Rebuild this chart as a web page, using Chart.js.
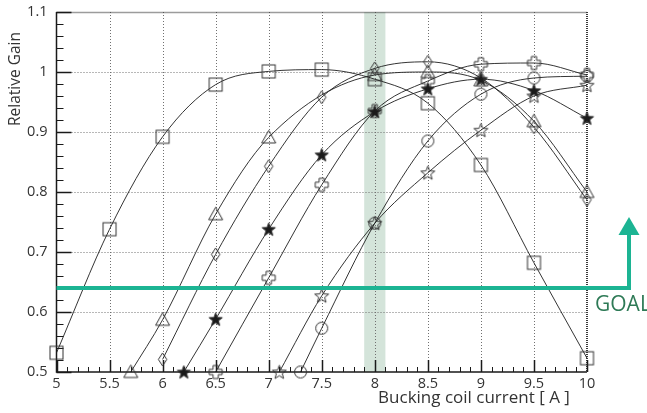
<!DOCTYPE html>
<html>
<head>
<meta charset="utf-8">
<script src="https://cdn.jsdelivr.net/npm/chart.js@4.4.1/dist/chart.umd.min.js"></script>
<style>
  html, body { margin: 0; padding: 0; background: #fff; }
  #c { display: block; }
</style>
</head>
<body>
<canvas id="c" width="647" height="413"></canvas>
<script>
// Relative gain versus bucking coil current, one series per configuration
const squareX   = [5, 5.5, 6, 6.5, 7, 7.5, 8, 8.5, 9, 9.5, 10];
const squareY   = [0.532, 0.738, 0.892, 0.979, 1.001, 1.004, 0.988, 0.948, 0.845, 0.682, 0.523];

const triangleX = [5.7, 6, 6.5, 7, 8, 8.5, 9, 9.5, 10];
const triangleY = [0.5, 0.587, 0.763, 0.891, 0.995, 1.0, 0.986, 0.918, 0.8];

const diamondX  = [6, 6.5, 7, 7.5, 8, 8.5, 9, 9.5, 10];
const diamondY  = [0.521, 0.696, 0.843, 0.958, 1.006, 1.017, 0.99, 0.908, 0.787];

const starX     = [6.2, 6.5, 7, 7.5, 8, 8.5, 9, 9.5, 10];
const starY     = [0.5, 0.588, 0.738, 0.862, 0.934, 0.972, 0.988, 0.969, 0.923];

const crossX    = [6.5, 7, 7.5, 8, 8.5, 9, 9.5, 10];
const crossY    = [0.5, 0.657, 0.812, 0.935, 0.985, 1.013, 1.015, 0.995];

const circleX   = [7.3, 7.5, 8, 8.5, 9, 9.5, 10];
const circleY   = [0.5, 0.573, 0.748, 0.885, 0.963, 0.99, 0.993];

const openStarX = [7.1, 7.5, 8, 8.5, 9, 9.5, 10];
const openStarY = [0.5, 0.627, 0.748, 0.832, 0.903, 0.96, 0.978];

// Axis ranges and tick labels
const xTickLabels = ['5', '5.5', '6', '6.5', '7', '7.5', '8', '8.5', '9', '9.5', '10'];
const yTickLabels = ['0.5', '0.6', '0.7', '0.8', '0.9', '1', '1.1'];

// Operating window and target gain
const bandFrom = 7.9;
const bandTo = 8.1;
const goalGain = 0.64;

const INK = '#333';

// ---- marker glyphs drawn onto small canvases ----
function glyph(draw) {
  const c = document.createElement('canvas');
  c.width = 17; c.height = 17;
  const g = c.getContext('2d');
  g.strokeStyle = INK;
  g.fillStyle = '#1a1a1a';
  g.lineWidth = 1;
  g.lineJoin = 'miter';
  draw(g, 8.5);
  return c;
}
function starPath(g, m, ro, ri) {
  g.beginPath();
  for (let i = 0; i < 10; i++) {
    const r = i % 2 === 0 ? ro : ri;
    const a = -Math.PI / 2 + i * Math.PI / 5;
    const px = m + r * Math.cos(a), py = m + r * Math.sin(a) + 0.6;
    if (i === 0) g.moveTo(px, py); else g.lineTo(px, py);
  }
  g.closePath();
}
const markSquare = glyph((g, m) => { g.strokeRect(m - 6.5, m - 6.5, 13, 13); });
const markTriangle = glyph((g, m) => {
  g.beginPath(); g.moveTo(m, m - 7); g.lineTo(m + 7, m + 5.5); g.lineTo(m - 7, m + 5.5); g.closePath(); g.stroke();
});
const markDiamond = glyph((g, m) => {
  g.beginPath(); g.moveTo(m, m - 6.5); g.lineTo(m + 4.2, m); g.lineTo(m, m + 6.5); g.lineTo(m - 4.2, m); g.closePath(); g.stroke();
});
const markCircle = glyph((g, m) => { g.beginPath(); g.arc(m, m, 6, 0, Math.PI * 2); g.stroke(); });
const markCross = glyph((g, m) => {
  const a = 2.6, b = 6.5;
  g.beginPath();
  g.moveTo(m - a, m - b); g.lineTo(m + a, m - b); g.lineTo(m + a, m - a); g.lineTo(m + b, m - a);
  g.lineTo(m + b, m + a); g.lineTo(m + a, m + a); g.lineTo(m + a, m + b); g.lineTo(m - a, m + b);
  g.lineTo(m - a, m + a); g.lineTo(m - b, m + a); g.lineTo(m - b, m - a); g.lineTo(m - a, m - a);
  g.closePath(); g.stroke();
});
const markStar = glyph((g, m) => { starPath(g, m, 7, 2.9); g.fill(); g.stroke(); });
const markOpenStar = glyph((g, m) => { starPath(g, m, 7.3, 3.1); g.stroke(); });

function pts(xs, ys) { return xs.map((v, i) => ({ x: v, y: ys[i] })); }
function series(label, xs, ys, marker) {
  return {
    label,
    data: pts(xs, ys),
    borderColor: '#1e1e1e',
    borderWidth: 0.9,
    backgroundColor: 'transparent',
    fill: false,
    cubicInterpolationMode: 'monotone',
    pointStyle: marker,
    pointRadius: 6,
    clip: false
  };
}

// ---- frame, band, grid, ticks, goal marker and axis titles ----
const decor = {
  id: 'decor',
  beforeDatasetsDraw(chart) {
    const { ctx, chartArea: a, scales: { x, y } } = chart;
    ctx.save();
    // operating band
    const b0 = x.getPixelForValue(bandFrom), b1 = x.getPixelForValue(bandTo);
    ctx.fillStyle = '#d4e4da';
    ctx.fillRect(b0, a.top, b1 - b0, a.bottom - a.top);

    // dotted grid
    ctx.strokeStyle = '#707070';
    ctx.lineWidth = 1;
    ctx.setLineDash([1, 2]);
    x.ticks.forEach(t => {
      if (t.value <= x.min || t.value >= x.max) return;
      const px = Math.round(x.getPixelForValue(t.value)) + 0.5;
      ctx.beginPath(); ctx.moveTo(px, a.top); ctx.lineTo(px, a.bottom); ctx.stroke();
    });
    y.ticks.forEach(t => {
      if (t.value <= y.min || t.value >= y.max) return;
      const py = Math.round(y.getPixelForValue(t.value)) + 0.5;
      ctx.beginPath(); ctx.moveTo(a.left, py); ctx.lineTo(a.right, py); ctx.stroke();
    });

    // top and right frame, dark dotted
    ctx.strokeStyle = '#3a3a3a';
    ctx.setLineDash([1, 1]);
    ctx.lineWidth = 1.5;
    ctx.beginPath(); ctx.moveTo(a.left, a.top + 0.5); ctx.lineTo(a.right, a.top + 0.5); ctx.stroke();
    ctx.lineWidth = 2;
    ctx.beginPath(); ctx.moveTo(a.right, a.top); ctx.lineTo(a.right, a.bottom); ctx.stroke();

    // left and bottom axes, solid
    ctx.setLineDash([]);
    ctx.strokeStyle = '#1a1a1a';
    ctx.lineWidth = 1.5;
    ctx.beginPath();
    ctx.moveTo(a.left, a.top); ctx.lineTo(a.left, a.bottom); ctx.lineTo(a.right, a.bottom);
    ctx.stroke();

    // inward tick marks: y every 0.02, x every 0.1
    for (let k = 0; k <= 30; k++) {
      const v = y.min + k * 0.02;
      const py = Math.round(y.getPixelForValue(v)) + 0.5;
      const major = k % 5 === 0;
      ctx.lineWidth = major ? 1.5 : 1;
      ctx.beginPath(); ctx.moveTo(a.left, py); ctx.lineTo(a.left + (major ? 15 : 7), py); ctx.stroke();
    }
    for (let k = 0; k <= 50; k++) {
      const v = x.min + k * 0.1;
      const px = Math.round(x.getPixelForValue(v)) + 0.5;
      const major = k % 5 === 0;
      ctx.lineWidth = major ? 1.5 : 1;
      ctx.beginPath(); ctx.moveTo(px, a.bottom); ctx.lineTo(px, a.bottom - (major ? 12 : 5)); ctx.stroke();
    }
    ctx.restore();
  },
  afterDatasetsDraw(chart) {
    const { ctx, chartArea: a, scales: { y } } = chart;
    ctx.save();
    const teal = '#1cb493';
    const gy = y.getPixelForValue(goalGain);
    const stemX = 629;
    ctx.strokeStyle = teal;
    ctx.lineWidth = 4;
    ctx.lineCap = 'butt';
    ctx.beginPath();
    ctx.moveTo(a.left, gy); ctx.lineTo(stemX, gy); ctx.lineTo(stemX, 233);
    ctx.stroke();
    ctx.fillStyle = teal;
    ctx.beginPath();
    ctx.moveTo(stemX, 217); ctx.lineTo(stemX + 10.5, 235); ctx.lineTo(stemX - 10.5, 235); ctx.closePath();
    ctx.fill();

    ctx.fillStyle = '#2e7a56';
    ctx.font = '21px "Open Sans", sans-serif';
    ctx.textAlign = 'left';
    ctx.textBaseline = 'alphabetic';
    ctx.fillText('GOAL', 595, 311);

    // axis titles
    ctx.fillStyle = INK;
    ctx.font = '17px "Open Sans", sans-serif';
    ctx.textAlign = 'center';
    ctx.textBaseline = 'middle';
    ctx.fillText('Bucking coil current [ A ]', 474, 398);
    ctx.font = '15.5px "Open Sans", sans-serif';
    ctx.save();
    ctx.translate(16, 79);
    ctx.rotate(-Math.PI / 2);
    ctx.fillText('Relative Gain', 0, 0);
    ctx.restore();
    ctx.restore();
  }
};

new Chart(document.getElementById('c'), {
  type: 'line',
  data: {
    datasets: [
      series('Square', squareX, squareY, markSquare),
      series('Triangle', triangleX, triangleY, markTriangle),
      series('Diamond', diamondX, diamondY, markDiamond),
      series('Star', starX, starY, markStar),
      series('Cross', crossX, crossY, markCross),
      series('Circle', circleX, circleY, markCircle),
      series('Open star', openStarX, openStarY, markOpenStar)
    ]
  },
  options: {
    responsive: false,
    animation: false,
    events: [],
    devicePixelRatio: 1,
    layout: { padding: { left: 0, right: 60, top: 12, bottom: 0 } },
    plugins: { legend: { display: false }, tooltip: { enabled: false } },
    scales: {
      x: {
        type: 'linear',
        min: 5, max: 10,
        grid: { display: false, drawTicks: false },
        border: { display: false },
        ticks: {
          stepSize: 0.5,
          padding: 3,
          color: INK,
          font: { family: '"Open Sans", sans-serif', size: 14.5 },
          maxRotation: 0,
          autoSkip: false,
          callback: (v) => xTickLabels[Math.round((v - 5) / 0.5)]
        },
        afterFit: (s) => { s.height = 41; s.paddingLeft = 0; s.paddingRight = 0; }
      },
      y: {
        type: 'linear',
        min: 0.5, max: 1.1,
        grid: { display: false, drawTicks: false },
        border: { display: false },
        ticks: {
          stepSize: 0.1,
          padding: 9,
          color: INK,
          font: { family: '"Open Sans", sans-serif', size: 14.5 },
          autoSkip: false,
          callback: (v) => yTickLabels[Math.round((v - 0.5) / 0.1)]
        },
        afterFit: (s) => { s.width = 56.5; s.paddingTop = 0; s.paddingBottom = 0; }
      }
    }
  },
  plugins: [decor]
});
</script>
</body>
</html>
